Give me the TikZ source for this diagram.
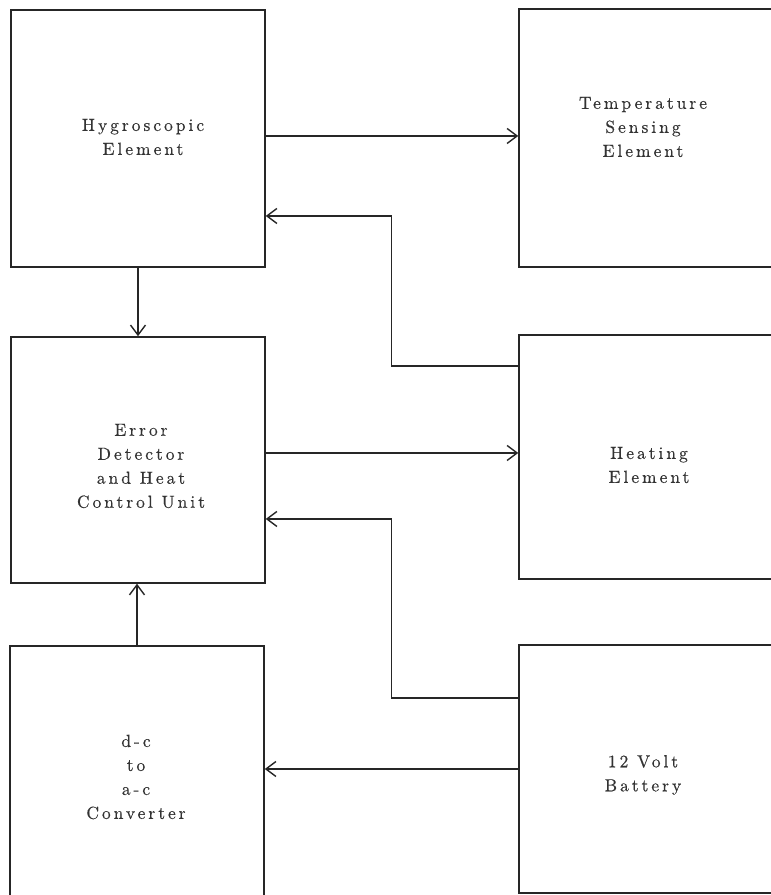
\documentclass[tikz,border=0pt]{standalone}
\usepackage{fontspec}
\newfontfamily\blockfont{lmroman10-regular.otf}[LetterSpace=17, FakeBold=0.4]
\usetikzlibrary{arrows.meta}
\tikzset{
  block/.style={draw=black!85, line width=1.5pt, rectangle},
  blocktext/.style={align=center, text=black!80, font=\blockfont\fontsize{17.5}{24}\selectfont},
}

\begin{document}
\begin{tikzpicture}[x=1pt, y=1pt, >={Straight Barb[length=10pt,width=15pt]}]
                \useasboundingbox (0,0) rectangle (771,895);
                \clip (0,0) rectangle (771,895);

                \node[block, minimum width=254pt, minimum height=257pt] (hygro)   at (138, 756.5) {};
                \node[block, minimum width=271pt, minimum height=258pt] (tempsens) at (654.5, 757) {};
                \node[block, minimum width=254pt, minimum height=246pt] (errdet)  at (138, 435) {};
                \node[block, minimum width=271pt, minimum height=244pt] (heater)  at (654.5, 438) {};
                \node[block, minimum width=254pt, minimum height=259pt] (conv)    at (137, 119.5) {};
                \node[block, minimum width=271pt, minimum height=248pt] (battery) at (654.5, 126) {};

                \node[blocktext] (hygrotext)   at (143, 758) {Hygroscopic\\Element};
                \node[blocktext] (tempsenstext) at (643, 768) {Temperature\\Sensing\\Element};
                \node[blocktext] (errdettext)  at (141, 429) {Error\\Detector\\and Heat\\Control Unit};
                \node[blocktext] (heatertext)  at (649, 430) {Heating\\Element};
                \node[blocktext] (convtext)    at (136, 118) {d-c\\to\\a-c\\Converter};
                \node[blocktext] (batterytext) at (643, 120) {12 Volt\\Battery};

                \draw[->, line width=1.4pt, black!85] ([yshift=2.5pt]hygro.east) coordinate (hygout) -- (hygout -| tempsens.west);
                \draw[->, line width=1.4pt, black!85] (hygro.south) -- (hygro.south |- errdet.north);
                \draw[->, line width=1.4pt, black!85] ([yshift=7pt]errdet.east) coordinate (errout) -- (errout -| heater.west);
                \draw[->, line width=1.4pt, black!85] ([yshift=91pt]heater.west) -- ++(-127,0) |- ([yshift=-77.5pt]hygro.east);
                \draw[->, line width=1.4pt, black!85] ([yshift=71pt]battery.west) -- ++(-127,0) |- ([yshift=-59pt]errdet.east);
                \draw[->, line width=1.4pt, black!85] (battery.west) -- (battery.west -| conv.east);
                \draw[->, line width=1.4pt, black!85] (conv.north) -- (conv.north |- errdet.south);
            \end{tikzpicture}
\end{document}
